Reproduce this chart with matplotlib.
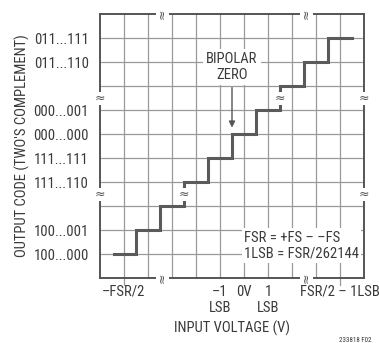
import matplotlib.pyplot as plt
import numpy as np

plt.rcParams['font.family'] = ['Roboto Condensed', 'DejaVu Sans']

# staircase: transitions and output levels (grid units)
x_edges = [0.6, 1.5, 2.5, 3.5, 4.5, 5.5, 6.5, 7.5, 8.5, 9.5, 10.5]
levels = [1, 2, 3, 4, 5, 6, 7, 8, 9, 10]

y_ticks = [1, 2, 4, 5, 6, 7, 9, 10]
y_labels = ['100...000', '100...001', '111...110', '111...111',
            '000...000', '000...001', '011...110', '011...111']

x_ticks = [1, 5, 6, 7, 10]
x_labels = ['\u2013FSR/2', '\u20131\nLSB', '0V', '1\nLSB', 'FSR/2 \u2013 1LSB']

txt = '#3a3a3a'
grid_c = '#9a9a9a'
line_c = '#5a5a5a'

fig = plt.figure(figsize=(3.79, 3.43), dpi=100)
ax = fig.add_axes([100 / 379, 65 / 343, 264 / 379, 264 / 343])
ax.set_xlim(0, 11)
ax.set_ylim(0, 11)

for g in range(1, 11):
    ax.axvline(g, color=grid_c, lw=0.9, zorder=1)
    ax.axhline(g, color=grid_c, lw=0.9, zorder=1)

xs = np.repeat(x_edges, 2)[1:-1]
ys = np.repeat(levels, 2)
ax.plot(xs, ys, color=line_c, lw=2.2, zorder=3, solid_joinstyle='miter')

for s in ax.spines.values():
    s.set_color('#555555')
    s.set_linewidth(1.4)

ax.set_yticks(y_ticks)
ax.set_yticklabels(y_labels, fontsize=10.5, color=txt)
ax.tick_params(axis='y', length=0, pad=8)
ax.set_xticks(x_ticks)
ax.set_xticklabels(x_labels, fontsize=10.5, color=txt, linespacing=1.2)
ax.tick_params(axis='x', length=0, pad=5)
# only two tick marks below the axis
for xt in [1, 10]:
    ax.plot([xt, xt], [0, -0.3], color=grid_c, lw=0.9, clip_on=False)

ax.set_ylabel("OUTPUT CODE (TWO'S COMPLEMENT)", fontsize=10.5, color=txt, va='center')
ax.yaxis.set_label_coords(-0.295, 0.5)
ax.set_xlabel('INPUT VOLTAGE (V)', fontsize=10.5, color=txt, va='center')
ax.xaxis.set_label_coords(0.5, -0.189)

# break marks
def brk(x, y, rot=0):
    ax.text(x, y, '\u2248', fontsize=9, color='#555555', ha='center', va='center',
            rotation=rot, zorder=5, clip_on=False, family='DejaVu Sans',
            bbox=dict(boxstyle='square,pad=0.0', fc='white', ec='none'))

for yb in [3.5, 7.5]:
    brk(0, yb)
    brk(11, yb)
for xb in [2.6, 8.6]:
    brk(xb, 11, 90)
    brk(xb, 0, 90)
brk(3.5, 3.5)
brk(7.5, 7.5)

# annotations
ax.text(5.5, 8.8, 'BIPOLAR\nZERO', fontsize=10.5, color=txt, ha='center', va='center',
        linespacing=1.2, zorder=4,
        bbox=dict(boxstyle='square,pad=0.2', fc='white', ec='none'))
ax.annotate('', xy=(5.5, 6.15), xytext=(5.5, 8.05),
            arrowprops=dict(arrowstyle='-|>', color='#555555', lw=1.0,
                            mutation_scale=9), zorder=4)
ax.text(6.0, 1.35, 'FSR = +FS \u2013 \u2013FS\n1LSB = FSR/262144', fontsize=10.5,
        color=txt, ha='left', va='center', linespacing=1.2, zorder=4,
        bbox=dict(boxstyle='square,pad=0.15', fc='white', ec='none'))

fig.text(355 / 379, 1 - 340 / 343, '233818 F02', fontsize=5, color=txt,
         ha='center', va='center')

fig.savefig('out.png', dpi=100)
